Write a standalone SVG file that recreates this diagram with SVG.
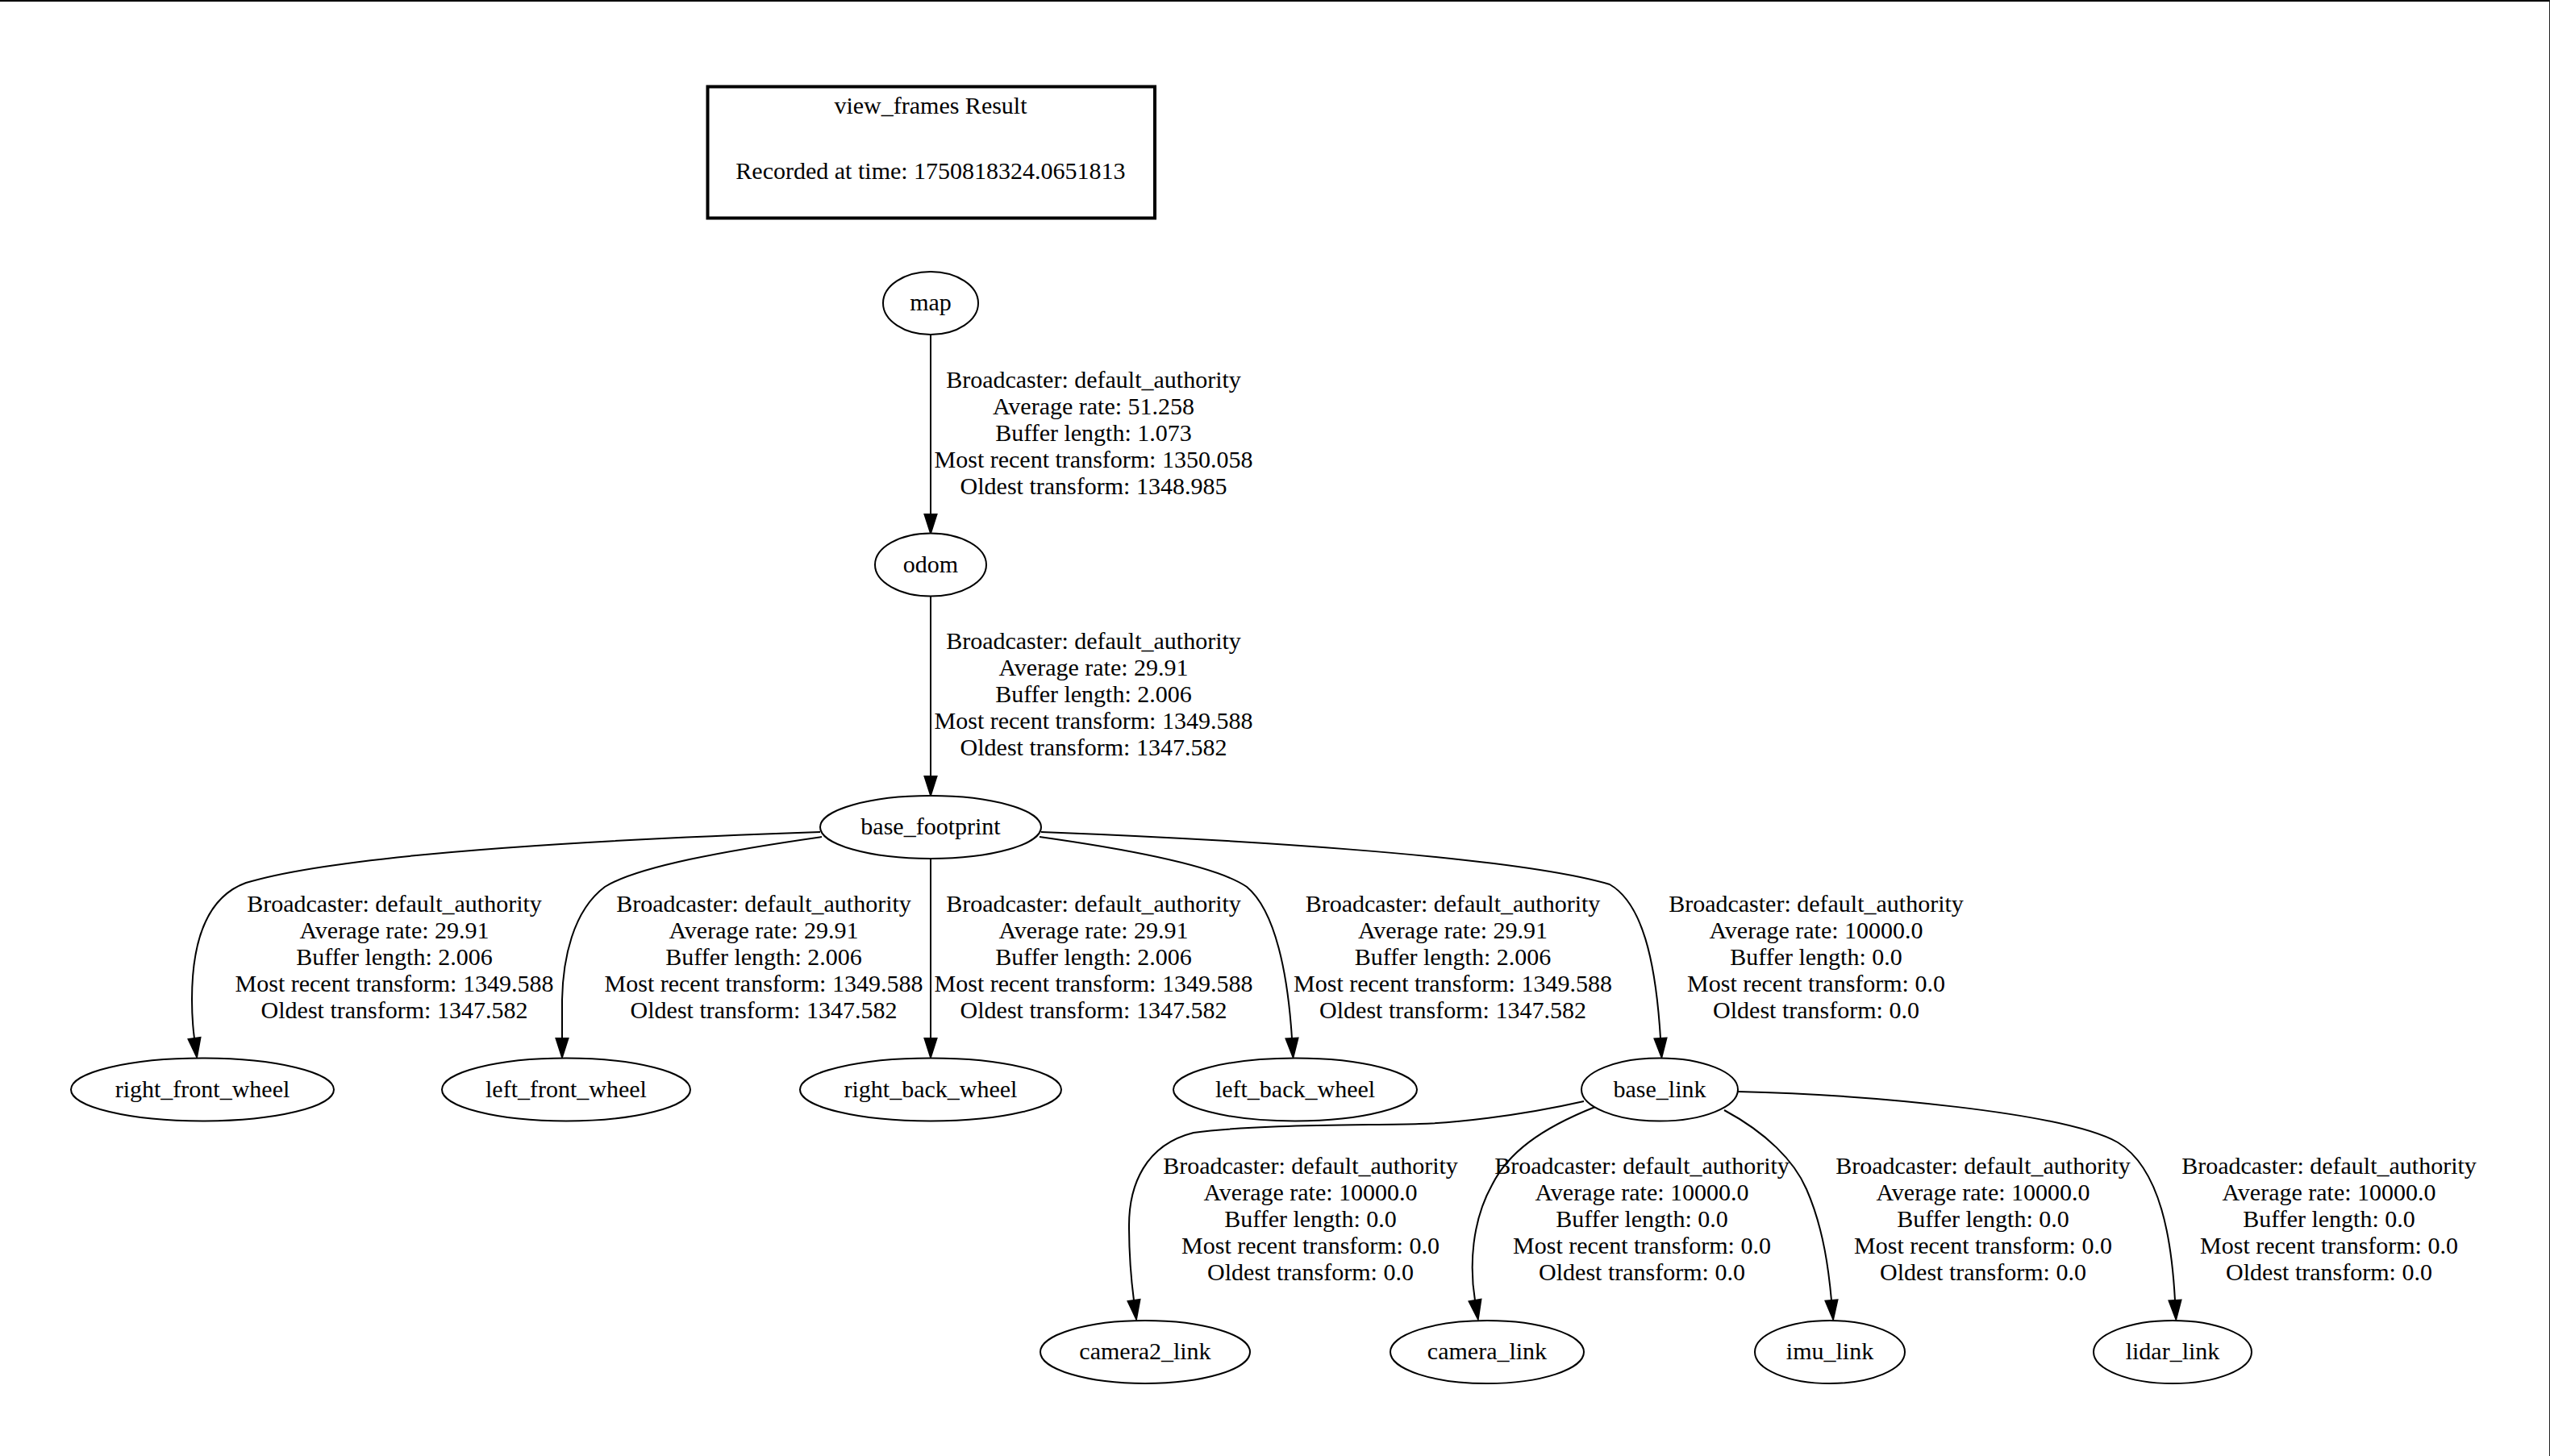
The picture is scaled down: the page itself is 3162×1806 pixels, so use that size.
<svg xmlns="http://www.w3.org/2000/svg" width="3162" height="1806" viewBox="0 0 3162 1806">
<style>
text{font-family:"Liberation Serif","Times New Roman",serif;font-size:30px;fill:#000;text-anchor:middle}
.node ellipse{fill:#fff;stroke:#000;stroke-width:2}
.edge{fill:none;stroke:#000;stroke-width:2;marker-end:url(#arr)}
</style>
<defs>
<marker id="arr" markerUnits="userSpaceOnUse" viewBox="0 -10 26 20" refX="0" refY="0" markerWidth="26" markerHeight="20" orient="auto" overflow="visible">
<path d="M0,-7.5 L23.5,0 L0,7.5 Z" fill="#000" stroke="#000" stroke-width="2"/>
</marker>
</defs>
<rect x="0" y="0" width="3162" height="1806" fill="#fff"/>
<line x1="0" y1="1" x2="3162" y2="1" stroke="#000" stroke-width="2"/>
<line x1="3161.5" y1="0" x2="3161.5" y2="1806" stroke="#222" stroke-width="1"/>

<g id="title">
<rect x="877.5" y="107.5" width="554.5" height="163" fill="none" stroke="#000" stroke-width="4"/>
<text x="1154" y="141">view_frames Result</text>
<text x="1154" y="222">Recorded at time: 1750818324.0651813</text>
</g>

<g id="connectors">
<path class="edge" d="M1154,415 L1154,638"/>
<path class="edge" d="M1154,739.5 L1154,963"/>
<path class="edge" d="M1017,1032 C840,1038 440,1054 305,1095 C250,1115 238,1180 238,1240 C238,1258 239,1273 241,1288"/>
<path class="edge" d="M1019,1038 C900,1055 790,1075 750,1100 C710,1130 698,1190 697,1240 C697,1260 697,1275 697,1288"/>
<path class="edge" d="M1154,1065 L1154,1288"/>
<path class="edge" d="M1289,1038 C1410,1055 1510,1075 1546,1100 C1582,1130 1597,1210 1602,1288"/>
<path class="edge" d="M1291,1032 C1500,1040 1870,1060 1996,1097 C2036,1120 2053,1190 2059,1288"/>
<path class="edge" d="M1964,1366 C1880,1385 1800,1393 1760,1394 C1700,1396 1560,1394 1480,1405 C1420,1420 1400,1470 1400,1520 C1400,1560 1403,1590 1406,1613"/>
<path class="edge" d="M1978,1373 C1910,1400 1870,1430 1850,1470 C1825,1515 1822,1570 1829,1613"/>
<path class="edge" d="M2138,1377 C2190,1405 2225,1440 2240,1475 C2262,1525 2268,1580 2271,1613"/>
<path class="edge" d="M2155,1354 C2320,1358 2560,1380 2626,1417 C2680,1450 2693,1540 2697,1613"/>
</g>

<g id="edge-labels">
<g id="lbl-map-odom">
<text x="1356" y="480.5">Broadcaster: default_authority</text>
<text x="1356" y="513.5">Average rate: 51.258</text>
<text x="1356" y="546.5">Buffer length: 1.073</text>
<text x="1356" y="579.5">Most recent transform: 1350.058</text>
<text x="1356" y="612.5">Oldest transform: 1348.985</text>
</g>
<g id="lbl-odom-bf">
<text x="1356" y="805">Broadcaster: default_authority</text>
<text x="1356" y="838">Average rate: 29.91</text>
<text x="1356" y="871">Buffer length: 2.006</text>
<text x="1356" y="904">Most recent transform: 1349.588</text>
<text x="1356" y="937">Oldest transform: 1347.582</text>
</g>
<g id="lbl-bf-rfw">
<text x="489" y="1130.5">Broadcaster: default_authority</text>
<text x="489" y="1163.5">Average rate: 29.91</text>
<text x="489" y="1196.5">Buffer length: 2.006</text>
<text x="489" y="1229.5">Most recent transform: 1349.588</text>
<text x="489" y="1262.5">Oldest transform: 1347.582</text>
</g>
<g id="lbl-bf-lfw">
<text x="947" y="1130.5">Broadcaster: default_authority</text>
<text x="947" y="1163.5">Average rate: 29.91</text>
<text x="947" y="1196.5">Buffer length: 2.006</text>
<text x="947" y="1229.5">Most recent transform: 1349.588</text>
<text x="947" y="1262.5">Oldest transform: 1347.582</text>
</g>
<g id="lbl-bf-rbw">
<text x="1356" y="1130.5">Broadcaster: default_authority</text>
<text x="1356" y="1163.5">Average rate: 29.91</text>
<text x="1356" y="1196.5">Buffer length: 2.006</text>
<text x="1356" y="1229.5">Most recent transform: 1349.588</text>
<text x="1356" y="1262.5">Oldest transform: 1347.582</text>
</g>
<g id="lbl-bf-lbw">
<text x="1801.5" y="1130.5">Broadcaster: default_authority</text>
<text x="1801.5" y="1163.5">Average rate: 29.91</text>
<text x="1801.5" y="1196.5">Buffer length: 2.006</text>
<text x="1801.5" y="1229.5">Most recent transform: 1349.588</text>
<text x="1801.5" y="1262.5">Oldest transform: 1347.582</text>
</g>
<g id="lbl-bf-bl">
<text x="2252" y="1130.5">Broadcaster: default_authority</text>
<text x="2252" y="1163.5">Average rate: 10000.0</text>
<text x="2252" y="1196.5">Buffer length: 0.0</text>
<text x="2252" y="1229.5">Most recent transform: 0.0</text>
<text x="2252" y="1262.5">Oldest transform: 0.0</text>
</g>
<g id="lbl-bl-cam2">
<text x="1625" y="1456">Broadcaster: default_authority</text>
<text x="1625" y="1489">Average rate: 10000.0</text>
<text x="1625" y="1522">Buffer length: 0.0</text>
<text x="1625" y="1555">Most recent transform: 0.0</text>
<text x="1625" y="1588">Oldest transform: 0.0</text>
</g>
<g id="lbl-bl-cam">
<text x="2036" y="1456">Broadcaster: default_authority</text>
<text x="2036" y="1489">Average rate: 10000.0</text>
<text x="2036" y="1522">Buffer length: 0.0</text>
<text x="2036" y="1555">Most recent transform: 0.0</text>
<text x="2036" y="1588">Oldest transform: 0.0</text>
</g>
<g id="lbl-bl-imu">
<text x="2459" y="1456">Broadcaster: default_authority</text>
<text x="2459" y="1489">Average rate: 10000.0</text>
<text x="2459" y="1522">Buffer length: 0.0</text>
<text x="2459" y="1555">Most recent transform: 0.0</text>
<text x="2459" y="1588">Oldest transform: 0.0</text>
</g>
<g id="lbl-bl-lidar">
<text x="2888" y="1456">Broadcaster: default_authority</text>
<text x="2888" y="1489">Average rate: 10000.0</text>
<text x="2888" y="1522">Buffer length: 0.0</text>
<text x="2888" y="1555">Most recent transform: 0.0</text>
<text x="2888" y="1588">Oldest transform: 0.0</text>
</g>
</g>

<g id="map" class="node"><ellipse cx="1154" cy="376" rx="59" ry="39"/><text x="1154" y="385">map</text></g>
<g id="odom" class="node"><ellipse cx="1154" cy="700.5" rx="69" ry="39"/><text x="1154" y="709.5">odom</text></g>
<g id="base_footprint" class="node"><ellipse cx="1154" cy="1026" rx="137" ry="39"/><text x="1154" y="1035">base_footprint</text></g>
<g id="right_front_wheel" class="node"><ellipse cx="251" cy="1351.5" rx="163" ry="39"/><text x="251" y="1360.5">right_front_wheel</text></g>
<g id="left_front_wheel" class="node"><ellipse cx="702" cy="1351.5" rx="154" ry="39"/><text x="702" y="1360.5">left_front_wheel</text></g>
<g id="right_back_wheel" class="node"><ellipse cx="1154" cy="1351.5" rx="162" ry="39"/><text x="1154" y="1360.5">right_back_wheel</text></g>
<g id="left_back_wheel" class="node"><ellipse cx="1606" cy="1351.5" rx="151" ry="39"/><text x="1606" y="1360.5">left_back_wheel</text></g>
<g id="base_link" class="node"><ellipse cx="2058" cy="1351.5" rx="97" ry="39"/><text x="2058" y="1360.5">base_link</text></g>
<g id="camera2_link" class="node"><ellipse cx="1420" cy="1677" rx="130" ry="39"/><text x="1420" y="1686">camera2_link</text></g>
<g id="camera_link" class="node"><ellipse cx="1844" cy="1677" rx="120" ry="39"/><text x="1844" y="1686">camera_link</text></g>
<g id="imu_link" class="node"><ellipse cx="2269" cy="1677" rx="93" ry="39"/><text x="2269" y="1686">imu_link</text></g>
<g id="lidar_link" class="node"><ellipse cx="2694" cy="1677" rx="98" ry="39"/><text x="2694" y="1686">lidar_link</text></g>
</svg>
